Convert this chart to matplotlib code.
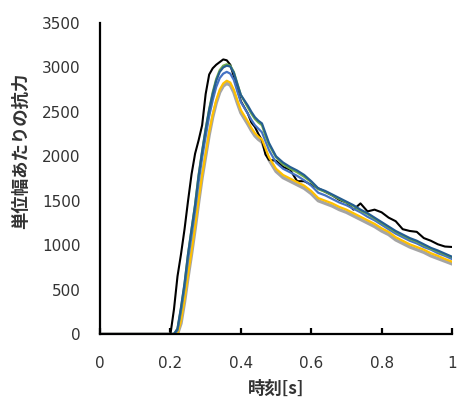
import matplotlib
matplotlib.use("Agg")
import matplotlib.pyplot as plt

# time [s]
t = [0.00, 0.20, 0.21, 0.22, 0.23, 0.24, 0.25, 0.26, 0.27, 0.28, 0.29,
     0.30, 0.31, 0.32, 0.33, 0.34, 0.35, 0.36, 0.37, 0.38, 0.39, 0.40,
     0.42, 0.43, 0.44, 0.45, 0.46, 0.47, 0.48, 0.50, 0.52, 0.54, 0.56,
     0.58, 0.60, 0.62, 0.64, 0.66, 0.68, 0.70, 0.72, 0.74, 0.76, 0.78,
     0.80, 0.82, 0.84, 0.86, 0.88, 0.90, 0.92, 0.94, 0.96, 0.98, 1.00]

black = [0, 0, 280, 650, 900, 1180, 1500, 1800, 2030, 2180, 2350,
         2700, 2920, 2990, 3030, 3060, 3090, 3080, 3030, 2900, 2760, 2620,
         2480, 2380, 2330, 2250, 2180, 2020, 1960, 1950, 1880, 1850, 1720,
         1720, 1680, 1640, 1600, 1560, 1510, 1480, 1400, 1470, 1380, 1400,
         1370, 1310, 1270, 1180, 1160, 1150, 1080, 1050, 1010, 985, 980]

gray = [0, 0, 0, 0, 120, 360, 640, 900, 1180, 1480, 1760,
        2000, 2240, 2440, 2600, 2720, 2790, 2820, 2800, 2720, 2600, 2490,
        2360, 2290, 2230, 2190, 2160, 2060, 1960, 1830, 1760, 1720, 1680,
        1640, 1580, 1500, 1470, 1440, 1400, 1370, 1330, 1290, 1250, 1210,
        1160, 1120, 1060, 1020, 980, 950, 920, 880, 850, 820, 790]

yellow = [0, 0, 0, 0, 150, 390, 670, 930, 1210, 1510, 1790,
          2030, 2270, 2470, 2630, 2750, 2820, 2850, 2830, 2750, 2630, 2520,
          2390, 2320, 2260, 2220, 2190, 2090, 1990, 1860, 1790, 1750, 1710,
          1670, 1610, 1530, 1500, 1470, 1430, 1400, 1360, 1320, 1280, 1240,
          1190, 1150, 1090, 1050, 1010, 980, 950, 910, 880, 845, 815]

blue = [0, 0, 0, 40, 260, 520, 840, 1110, 1390, 1710, 1980,
        2220, 2450, 2630, 2780, 2880, 2930, 2950, 2930, 2860, 2730, 2610,
        2480, 2410, 2350, 2310, 2270, 2170, 2070, 1930, 1860, 1820, 1780,
        1730, 1670, 1590, 1560, 1520, 1480, 1450, 1410, 1370, 1320, 1280,
        1230, 1180, 1130, 1090, 1050, 1020, 980, 950, 910, 880, 845]

green = [0, 0, 0, 60, 290, 560, 900, 1180, 1460, 1790, 2060,
         2310, 2530, 2720, 2870, 2970, 3020, 3035, 3020, 2950, 2820, 2690,
         2550, 2480, 2420, 2380, 2350, 2230, 2130, 1990, 1910, 1860, 1820,
         1770, 1710, 1630, 1600, 1560, 1520, 1480, 1440, 1390, 1350, 1300,
         1250, 1200, 1150, 1110, 1070, 1040, 1000, 960, 930, 895, 865]

dark_blue = [0, 0, 0, 60, 300, 570, 900, 1180, 1450, 1780, 2050,
             2300, 2520, 2700, 2850, 2950, 3000, 3020, 3010, 2940, 2810, 2690,
             2570, 2500, 2440, 2400, 2370, 2260, 2150, 2000, 1930, 1880, 1840,
             1790, 1720, 1640, 1610, 1570, 1530, 1490, 1450, 1400, 1360, 1310,
             1260, 1210, 1160, 1120, 1080, 1050, 1010, 970, 940, 905, 870]

series = [
    (gray, "#A5A5A5", 2.4),
    (black, "#000000", 1.5),
    (yellow, "#FFC000", 1.6),
    (blue, "#4472C4", 1.6),
    (green, "#70AD47", 1.6),
    (dark_blue, "#255E91", 1.6),
]

plt.rcParams["font.family"] = ["DejaVu Sans", "Noto Sans CJK JP"]

fig = plt.figure(figsize=(4.57, 4.03), dpi=100)
ax = fig.add_axes([0.219, 0.171, 0.770, 0.772])

for values, color, lw in series:
    ax.plot(t, values, color=color, lw=lw)

ax.set_xlim(0, 1)
ax.set_ylim(0, 3500)
ax.set_xticks([0, 0.2, 0.4, 0.6, 0.8, 1])
ax.set_xticklabels(["0", "0.2", "0.4", "0.6", "0.8", "1"])
ax.set_yticks(range(0, 3501, 500))

for side in ("top", "right"):
    ax.spines[side].set_visible(False)
for side in ("left", "bottom"):
    ax.spines[side].set_linewidth(1.6)
    ax.spines[side].set_color("black")

ax.tick_params(axis="x", direction="in", length=4, width=1.6,
               pad=16, labelsize=11, labelcolor="#333333")
ax.tick_params(axis="y", length=0, pad=14, labelsize=11, labelcolor="#333333")

jp = ["Noto Sans CJK JP", "DejaVu Sans"]
ax.set_xlabel("時刻[s]", family=jp, fontsize=12.5, fontweight="bold",
              color="#333333")
ax.set_ylabel("単位幅あたりの抗力", family=jp, fontsize=12.5,
              fontweight="bold", color="#333333")
ax.xaxis.set_label_coords(0.5, -0.148)
ax.yaxis.set_label_coords(-0.20, 0.59)

fig.savefig("out.png", dpi=100)
